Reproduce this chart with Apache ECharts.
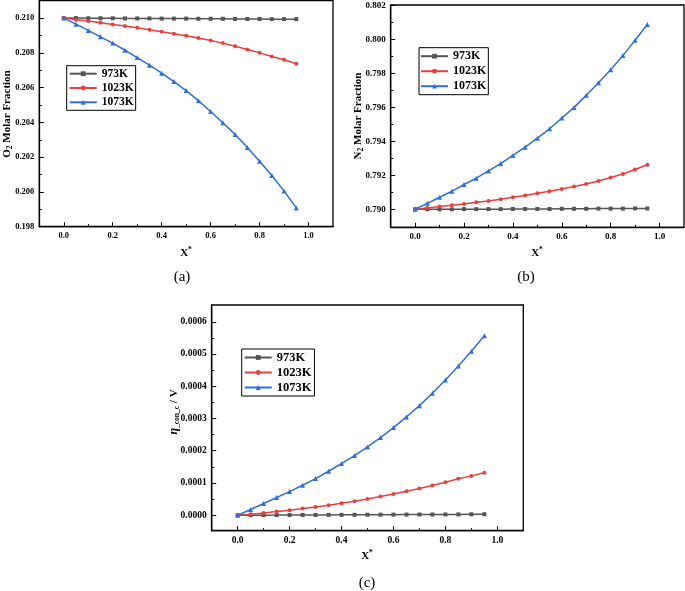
<!DOCTYPE html>
<html><head><meta charset="utf-8">
<script src="https://cdn.jsdelivr.net/npm/echarts@6/dist/echarts.min.js"></script>
<style>html,body{margin:0;padding:0;background:#fff}#c{width:685px;height:591px}</style>
</head><body><div id="c"></div>
<script>
const xs = [0,0.05,0.1,0.15,0.2,0.25,0.3,0.35,0.4,0.45,0.5,0.55,0.6,0.65,0.7,0.75,0.8,0.85,0.9,0.95];
const seriesNames = ['973K','1023K','1073K'];

const o2_973  = [0.21000,0.21000,0.20999,0.20999,0.20999,0.20998,0.20998,0.20998,0.20997,0.20997,0.20997,0.20996,0.20996,0.20996,0.20995,0.20995,0.20995,0.20994,0.20994,0.20994];
const o2_1023 = [0.21000,0.20990,0.20983,0.20973,0.20963,0.20954,0.20944,0.20933,0.20921,0.20910,0.20898,0.20885,0.20871,0.20856,0.20838,0.20819,0.20800,0.20779,0.20760,0.20737];
const o2_1073 = [0.21000,0.20965,0.20929,0.20892,0.20856,0.20815,0.20773,0.20729,0.20683,0.20635,0.20583,0.20525,0.20463,0.20398,0.20331,0.20256,0.20177,0.20094,0.20006,0.19908];

const n2_973  = [0.79000,0.79000,0.79000,0.79000,0.79001,0.79001,0.79001,0.79001,0.79002,0.79002,0.79002,0.79002,0.79003,0.79003,0.79003,0.79004,0.79004,0.79004,0.79005,0.79005];
const n2_1023 = [0.79000,0.79008,0.79016,0.79024,0.79031,0.79041,0.79049,0.79059,0.79071,0.79081,0.79094,0.79106,0.79120,0.79134,0.79149,0.79167,0.79187,0.79208,0.79234,0.79262];
const n2_1073 = [0.79000,0.79035,0.79071,0.79106,0.79146,0.79183,0.79226,0.79269,0.79317,0.79366,0.79419,0.79474,0.79537,0.79600,0.79671,0.79745,0.79822,0.79905,0.79995,0.80088];

const eta_973  = [0,1e-7,3e-7,4e-7,6e-7,7e-7,9e-7,1.0e-6,1.2e-6,1.3e-6,1.5e-6,1.6e-6,1.8e-6,1.9e-6,2.1e-6,2.2e-6,2.4e-6,2.6e-6,2.8e-6,3.1e-6];
const eta_1023 = [0,3.1e-6,7.2e-6,1.14e-5,1.55e-5,2.07e-5,2.58e-5,3.10e-5,3.72e-5,4.34e-5,5.06e-5,5.79e-5,6.61e-5,7.44e-5,8.26e-5,9.19e-5,1.023e-4,1.13e-4,1.22e-4,1.32e-4];
const eta_1073 = [0,1.76e-5,3.62e-5,5.48e-5,7.33e-5,9.30e-5,1.136e-4,1.364e-4,1.601e-4,1.849e-4,2.118e-4,2.407e-4,2.717e-4,3.048e-4,3.399e-4,3.781e-4,4.194e-4,4.628e-4,5.083e-4,5.568e-4];

const xMajor = [0,0.2,0.4,0.6,0.8,1.0];
const xMinor = [0.1,0.3,0.5,0.7,0.9];
const yMajorA = [0.198,0.200,0.202,0.204,0.206,0.208,0.210];
const yMinorA = [0.199,0.201,0.203,0.205,0.207,0.209];
const yMajorB = [0.790,0.792,0.794,0.796,0.798,0.800,0.802];
const yMinorB = [0.791,0.793,0.795,0.797,0.799,0.801];
const yMajorC = [0,0.0001,0.0002,0.0003,0.0004,0.0005,0.0006];
const yMinorC = [0.00005,0.00015,0.00025,0.00035,0.00045,0.00055];

const colors = ['#555555','#e8403f','#2f6fd8'];
const symbols = ['rect','circle','triangle'];
const symSizes = [4,4,5];
const SERIF = '"Liberation Serif","Times New Roman",serif';

const panels = [
  {rect:{left:39.3,top:0.7,width:293.7,height:226}, ymin:0.198, ymax:0.211, yMajor:yMajorA, yMinor:yMinorA, dec:3, fs:8.5, data:[o2_973,o2_1023,o2_1073],
   legend:{left:66.7,top:65.7,fs:11.5,pad:[2,2,2,2],lh:12,gap:2.3}},
  {rect:{left:390.7,top:5,width:293.3,height:222.3}, ymin:0.78894, ymax:0.80203, yMajor:yMajorB, yMinor:yMinorB, dec:3, fs:9, data:[n2_973,n2_1023,n2_1073],
   legend:{left:419,top:47.7,fs:12,pad:[2,2,2,1],lh:13,gap:2}},
  {rect:{left:211.7,top:305,width:311.6,height:225.7}, ymin:-0.000048, ymax:0.000652, yMajor:yMajorC, yMinor:yMinorC, dec:4, fs:9.5, data:[eta_973,eta_1023,eta_1073],
   legend:{left:241.7,top:349,fs:12.5,pad:[2,3,2,2],lh:13,gap:2}}
];

const grid=[], xAxis=[], yAxis=[], series=[], legend=[];
panels.forEach((p,i)=>{
  grid.push(Object.assign({show:true,borderColor:'#000',borderWidth:1.3,backgroundColor:'transparent',containLabel:false}, p.rect));
  grid.push(Object.assign({show:false,containLabel:false}, p.rect));
  const gMain = 2*i, gMin = 2*i+1;
  const lab = (dec,fs)=>({show:true,color:'#000',fontFamily:SERIF,fontWeight:'bold',fontSize:fs,margin:5,formatter:v=>Number(v).toFixed(dec)});
  xAxis.push({type:'value',gridIndex:gMain,min:-0.1,max:1.1,splitLine:{show:false},
    axisLine:{show:true,onZero:false,lineStyle:{color:'#000',width:1.3}},
    axisTick:{show:true,inside:true,length:4.5,lineStyle:{color:'#000',width:1},customValues:xMajor},
    axisLabel:Object.assign(lab(1,p.fs),{customValues:xMajor})});
  xAxis.push({type:'value',gridIndex:gMin,min:-0.1,max:1.1,splitLine:{show:false},axisLine:{show:false,onZero:false},
    axisTick:{show:true,inside:true,length:2.5,lineStyle:{color:'#000',width:1},customValues:xMinor},axisLabel:{show:false}});
  yAxis.push({type:'value',gridIndex:gMain,min:p.ymin,max:p.ymax,splitLine:{show:false},
    axisLine:{show:true,onZero:false,lineStyle:{color:'#000',width:1.3}},
    axisTick:{show:true,inside:true,length:4.5,lineStyle:{color:'#000',width:1},customValues:p.yMajor},
    axisLabel:Object.assign(lab(p.dec,p.fs),{customValues:p.yMajor})});
  yAxis.push({type:'value',gridIndex:gMin,min:p.ymin,max:p.ymax,splitLine:{show:false},axisLine:{show:false,onZero:false},
    axisTick:{show:true,inside:true,length:2.5,lineStyle:{color:'#000',width:1},customValues:p.yMinor},axisLabel:{show:false}});
  p.data.forEach((arr,k)=>{
    series.push({type:'line',name:seriesNames[k],xAxisIndex:gMain,yAxisIndex:gMain,
      data:xs.map((x,j)=>[x,arr[j]]),symbol:symbols[k],symbolSize:symSizes[k],showSymbol:true,
      lineStyle:{color:colors[k],width:1.5},itemStyle:{color:colors[k]},z:2+k,animation:false});
  });
  const L=p.legend;
  legend.push({show:true,orient:'vertical',left:L.left,top:L.top,data:seriesNames,borderColor:'#000',borderWidth:1,
    padding:L.pad,itemWidth:27,itemHeight:6,itemGap:L.gap,selectedMode:false,
    textStyle:{color:'#000',fontFamily:SERIF,fontWeight:'bold',fontSize:L.fs,lineHeight:L.lh}});
});

const tb = {fontFamily:SERIF,fontWeight:'bold',fontSize:11,color:'#000',lineHeight:14};
const tsub = {fontFamily:SERIF,fontWeight:'bold',fontSize:7.5,color:'#000',lineHeight:14,verticalAlign:'bottom'};
const tsup = {fontFamily:SERIF,fontWeight:'bold',fontSize:7.5,color:'#000',lineHeight:14,verticalAlign:'top'};
const tit = {fontFamily:SERIF,fontWeight:'bold',fontStyle:'italic',fontSize:12,color:'#000',lineHeight:14};
const richAll = {b:tb,s:tsub,p:tsup,i:tit};
function txt(x,y,text,rot,extra){
  return {type:'text',x:x,y:y,rotation:rot||0,z:100,
    style:Object.assign({text:text,rich:richAll,align:'center',verticalAlign:'middle',textAlign:'center',textVerticalAlign:'middle'},extra||{})};
}
const capStyle = {font:'15px '+SERIF,fill:'#000'};
const graphic = [
  txt(7,114,'{b|O}{s|2}{b| Molar Fraction}',Math.PI/2),
  txt(358,116,'{b|N}{s|2}{b| Molar Fraction}',Math.PI/2),
  txt(174,412,'{i|η}{s|_con_c}{b| / V}',Math.PI/2),
  txt(186,253,'{b|X}{p|*}'),
  txt(537,253,'{b|X}{p|*}'),
  txt(367,556.5,'{b|X}{p|*}'),
  {type:'text',x:182,y:277,style:Object.assign({text:'(a)',textAlign:'center',textVerticalAlign:'middle'},capStyle)},
  {type:'text',x:526,y:277,style:Object.assign({text:'(b)',textAlign:'center',textVerticalAlign:'middle'},capStyle)},
  {type:'text',x:367,y:583,style:Object.assign({text:'(c)',textAlign:'center',textVerticalAlign:'middle'},capStyle)}
];

const chart = echarts.init(document.getElementById('c'),null,{renderer:'canvas'});
chart.setOption({animation:false,backgroundColor:'#fff',grid,xAxis,yAxis,series,legend,graphic});
</script></body></html>
